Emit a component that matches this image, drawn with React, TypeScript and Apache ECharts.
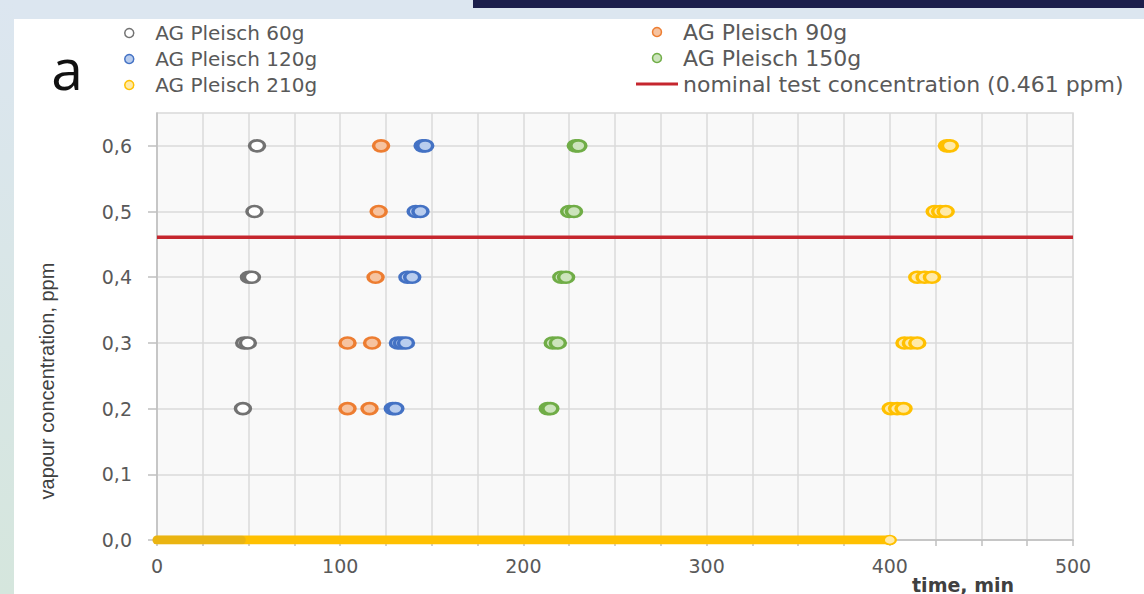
import React, { useEffect, useRef } from "react";
import * as echarts from "echarts";

// ---- data ----
const SERIES_NAMES = ["AG Pleisch 60g", "AG Pleisch 90g", "AG Pleisch 120g", "AG Pleisch 150g", "AG Pleisch 210g"];
const NOMINAL_LABEL = "nominal test concentration (0.461 ppm)";
const NOMINAL = 0.461;

// [time (min), vapour concentration (ppm)]
const PLEISCH_60G = [[46.9, 0.2], [47.6, 0.3], [49.6, 0.3], [50.2, 0.4], [51.8, 0.4], [53.2, 0.5], [54.6, 0.6]];
const PLEISCH_90G = [[104.0, 0.2], [104.0, 0.3], [116.0, 0.2], [117.4, 0.3], [119.3, 0.4], [121.0, 0.5], [122.3, 0.6]];
const PLEISCH_120G = [[128.7, 0.2], [130.1, 0.2], [131.5, 0.3], [133.7, 0.3], [135.9, 0.3], [136.7, 0.4], [139.3, 0.4], [141.2, 0.5], [143.8, 0.5], [145.0, 0.6], [146.4, 0.6]];
const PLEISCH_150G = [[213.3, 0.2], [214.7, 0.2], [216.0, 0.3], [218.8, 0.3], [220.7, 0.4], [223.3, 0.4], [225.0, 0.5], [227.6, 0.5], [228.6, 0.6], [230.0, 0.6]];
const PLEISCH_210G = [[400.5, 0.2], [404.0, 0.2], [407.5, 0.2], [408.0, 0.3], [411.5, 0.3], [415.0, 0.3], [415.0, 0.4], [419.0, 0.4], [423.0, 0.4], [424.5, 0.5], [427.5, 0.5], [430.5, 0.5], [431.2, 0.6], [432.8, 0.6]];
// readings at 0 ppm before breakthrough
const ZERO_60G = [[0, 0], [46, 0]];
const ZERO_210G = [[0, 0], [400, 0]];

const X_TICKS = [0, 100, 200, 300, 400, 500];
const Y_TICKS = [0, 0.1, 0.2, 0.3, 0.4, 0.5, 0.6];

// ---- styling ----
const STROKES = ["#727272", "#ed7d31", "#4472c4", "#70ad47", "#ffc000"];
const FILLS = ["#ffffff", "#f6c3a0", "#b9cdee", "#cce4bc", "#ffeaa8"];
const ELLIPSE = "path://M0,5A5,5 0 1 1 10,5A5,5 0 1 1 0,5Z";
const FONT = "DejaVu Sans";

export default function App() {
  const ref = useRef<HTMLDivElement>(null);

  useEffect(() => {
    if (!ref.current) return;
    const chart = echarts.init(ref.current, null, { renderer: "svg", width: 1144, height: 594 });

    const pointSets = [PLEISCH_60G, PLEISCH_90G, PLEISCH_120G, PLEISCH_150G, PLEISCH_210G];
    const scatterSeries = pointSets.map((pts, i) => ({
      name: SERIES_NAMES[i],
      type: "scatter",
      data: pts,
      symbol: ELLIPSE,
      symbolSize: [15, 11],
      z: 5,
      itemStyle: { color: FILLS[i], borderColor: STROKES[i], borderWidth: 3, opacity: 1 },
    }));

    const zero210 = ZERO_210G.map((p, i) =>
      i === ZERO_210G.length - 1 ? { value: p, symbol: ELLIPSE, symbolSize: [12, 9] } : { value: p, symbol: "none" }
    );

    const legendCommon = {
      orient: "vertical",
      itemWidth: 42,
      itemHeight: 9,
      selectedMode: false,
      itemStyle: { borderWidth: 1.5 },
    };

    const option: any = {
      animation: false,
      backgroundColor: "#ffffff",
      textStyle: { fontFamily: FONT },
      grid: {
        left: 157,
        right: 71,
        top: 113,
        bottom: 54,
        show: true,
        backgroundColor: "#f9f9f9",
        borderColor: "#d9d9d9",
        borderWidth: 1.5,
      },
      legend: [
        {
          ...legendCommon,
          data: [SERIES_NAMES[0], SERIES_NAMES[2], SERIES_NAMES[4]].map((n) => ({ name: n, icon: "circle" })),
          left: 119,
          top: 18,
          itemGap: 6,
          textStyle: { fontSize: 20, color: "#595959", fontFamily: FONT, lineHeight: 20 },
        },
        {
          ...legendCommon,
          data: [
            { name: SERIES_NAMES[1], icon: "circle" },
            { name: SERIES_NAMES[3], icon: "circle" },
            { name: NOMINAL_LABEL, icon: "path://M0,0H40V3H0Z" },
          ],
          left: 631,
          top: 16,
          itemGap: 4,
          textStyle: { fontSize: 22, color: "#595959", fontFamily: FONT, lineHeight: 22 },
        },
      ],
      xAxis: {
        type: "value",
        min: X_TICKS[0],
        max: X_TICKS[X_TICKS.length - 1],
        interval: X_TICKS[1] - X_TICKS[0],
        axisLine: { show: true, onZero: false, lineStyle: { color: "#bfbfbf", width: 1.5 } },
        axisTick: { show: true, length: 6, lineStyle: { color: "#bfbfbf", width: 1.5 } },
        minorTick: { show: true, splitNumber: 4, length: 6, lineStyle: { color: "#bfbfbf", width: 1.5 } },
        splitLine: { show: true, lineStyle: { color: "#dadada", width: 1.5 } },
        minorSplitLine: { show: true, lineStyle: { color: "#dadada", width: 1.5 } },
        axisLabel: { fontSize: 19, color: "#595959", margin: 16, fontFamily: FONT },
      },
      yAxis: {
        type: "value",
        min: 0,
        max: 0.65,
        interval: 0.1,
        axisLine: { show: true, lineStyle: { color: "#bfbfbf", width: 1.5 } },
        axisTick: { show: true, length: 9, customValues: Y_TICKS, lineStyle: { color: "#bfbfbf", width: 1.5 } },
        splitLine: { show: true, lineStyle: { color: "#dadada", width: 1.5 } },
        axisLabel: {
          customValues: Y_TICKS,
          fontSize: 19,
          color: "#595959",
          margin: 25,
          fontFamily: FONT,
          formatter: (v: number) => v.toFixed(1).replace(".", ","),
        },
      },
      series: [
        {
          name: NOMINAL_LABEL,
          type: "line",
          data: [[X_TICKS[0], NOMINAL], [X_TICKS[X_TICKS.length - 1], NOMINAL]],
          symbol: "none",
          z: 3,
          lineStyle: { color: "#c5262e", width: 3.5 },
          itemStyle: { color: "#c5262e" },
        },
        {
          name: "AG Pleisch 210g (0 ppm)",
          type: "line",
          data: zero210,
          showSymbol: true,
          z: 3,
          lineStyle: { color: STROKES[4], width: 9, cap: "round" },
          itemStyle: { color: FILLS[4], borderColor: STROKES[4], borderWidth: 2 },
        },
        {
          name: "AG Pleisch 60g (0 ppm)",
          type: "line",
          data: ZERO_60G,
          symbol: "none",
          z: 4,
          lineStyle: { color: STROKES[0], width: 9, cap: "round", opacity: 0.15 },
        },
        ...scatterSeries,
      ],
      graphic: [
        { type: "rect", shape: { x: 0, y: 0, width: 1144, height: 19 }, style: { fill: "#dce6f0" }, silent: true },
        {
          type: "rect",
          shape: { x: 0, y: 0, width: 14, height: 594 },
          style: {
            fill: new echarts.graphic.LinearGradient(0, 0, 0, 1, [
              { offset: 0, color: "#dce6f0" },
              { offset: 1, color: "#d5e6dd" },
            ]),
          },
          silent: true,
        },
        { type: "rect", shape: { x: 473, y: 0, width: 671, height: 8 }, style: { fill: "#1c1f4c" }, silent: true },
        {
          type: "text",
          x: 67,
          y: 68,
          style: { text: "a", fontSize: 57, fontFamily: "Open Sans", fill: "#111111", align: "center", verticalAlign: "middle" },
          silent: true,
        },
        {
          type: "text",
          x: 47,
          y: 381,
          rotation: Math.PI / 2,
          style: {
            text: "vapour concentration, ppm",
            fontSize: 20,
            fontFamily: "Liberation Sans",
            fill: "#404040",
            align: "center",
            verticalAlign: "middle",
          },
          silent: true,
        },
        {
          type: "text",
          x: 963,
          y: 594,
          style: {
            text: "time, min",
            fontSize: 19,
            fontWeight: "bold",
            fontFamily: FONT,
            fill: "#404040",
            align: "center",
            verticalAlign: "bottom",
          },
          silent: true,
        },
      ],
    };

    chart.setOption(option);
    return () => chart.dispose();
  }, []);

  return (
    <div
      ref={ref}
      style={{ position: "fixed", left: 0, top: 0, width: 1144, height: 594, background: "#ffffff" }}
    />
  );
}
